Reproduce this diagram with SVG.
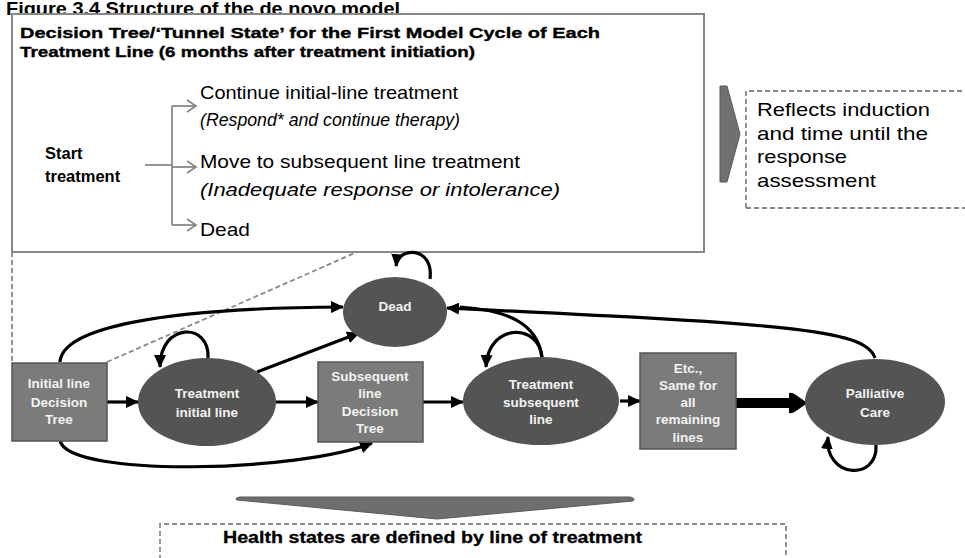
<svg xmlns="http://www.w3.org/2000/svg" width="965" height="558" viewBox="0 0 965 558">
  <style>
    text { font-family: "Liberation Sans", Arial, sans-serif; }
    .title { font-size: 19px; font-weight: bold; fill: #000; }
    .hdr { font-size: 15.5px; font-weight: bold; fill: #000; stroke: #000; stroke-width: 0.35; }
    .opt { font-size: 19px; fill: #000; }
    .opti { font-size: 19px; font-style: italic; fill: #000; }
    .start { font-size: 16.5px; font-weight: bold; fill: #000; }
    .note { font-size: 19px; fill: #000; }
    .foot { font-size: 17px; font-weight: bold; fill: #000; stroke: #000; stroke-width: 0.3; }
    .lbl { font-size: 13.5px; font-weight: bold; fill: #f2f2f2; text-anchor: middle; }
    .state { fill: #545454; }
    .tree { fill: #7b7b7b; stroke: #555; stroke-width: 1.5; }
    .dash { fill: none; stroke: #888; stroke-width: 1.8; stroke-dasharray: 5 3; }
    .branch { fill: none; stroke: #888; stroke-width: 1.8; }
    .edge { fill: none; stroke: #000; stroke-width: 3.2; marker-end: url(#head); }
  </style>
  <defs>
    <marker id="head" markerUnits="userSpaceOnUse" markerWidth="14" markerHeight="12" refX="12" refY="6" orient="auto">
      <path d="M0,0 L13,6 L0,12 Z" fill="#000"/>
    </marker>
    <marker id="open" markerUnits="userSpaceOnUse" markerWidth="12" markerHeight="14" refX="10" refY="7" orient="auto">
      <path d="M1,1 L10,7 L1,13" fill="none" stroke="#888" stroke-width="1.8"/>
    </marker>
  </defs>

  <!-- figure caption, clipped by the top edge -->
  <text class="title" x="6" y="15" textLength="394" lengthAdjust="spacingAndGlyphs">Figure 3.4 Structure of the de novo model</text>

  <!-- decision tree panel -->
  <g id="tunnel-panel">
    <rect x="12" y="14" width="692" height="238" fill="#fff" stroke="#888" stroke-width="2"/>
    <text class="hdr" x="20" y="38" textLength="580" lengthAdjust="spacingAndGlyphs">Decision Tree/‘Tunnel State’ for the First Model Cycle of Each</text>
    <text class="hdr" x="20" y="57" textLength="455" lengthAdjust="spacingAndGlyphs">Treatment Line (6 months after treatment initiation)</text>
    <text class="start" x="45" y="159">Start</text>
    <text class="start" x="45" y="182">treatment</text>
    <g id="branches">
      <path class="branch" d="M145,165 H172"/>
      <path class="branch" d="M172,106 V225"/>
      <path class="branch" d="M172,106 H196" marker-end="url(#open)"/>
      <path class="branch" d="M172,167 H196" marker-end="url(#open)"/>
      <path class="branch" d="M172,225 H196" marker-end="url(#open)"/>
    </g>
    <text class="opt" x="200" y="99" textLength="258" lengthAdjust="spacingAndGlyphs">Continue initial-line treatment</text>
    <text class="opti" x="200" y="126" textLength="260" lengthAdjust="spacingAndGlyphs">(Respond* and continue therapy)</text>
    <text class="opt" x="200" y="168" textLength="320" lengthAdjust="spacingAndGlyphs">Move to subsequent  line treatment</text>
    <text class="opti" x="200" y="196" textLength="360" lengthAdjust="spacingAndGlyphs">(Inadequate  response or intolerance)</text>
    <text class="opt" x="200" y="236" textLength="50" lengthAdjust="spacingAndGlyphs">Dead</text>
  </g>

  <!-- side pointer and note -->
  <g id="induction-note">
    <polygon points="720,86 727,86 740,134 727,182 720,182" fill="#707070" stroke="#5a5a5a" stroke-width="1"/>
    <path class="dash" d="M746,208 V91 H968 M746,208 H968"/>
    <text class="note" x="757" y="116" textLength="173" lengthAdjust="spacingAndGlyphs">Reflects induction</text>
    <text class="note" x="757" y="140" textLength="171" lengthAdjust="spacingAndGlyphs">and time until the</text>
    <text class="note" x="757" y="163" textLength="90" lengthAdjust="spacingAndGlyphs">response</text>
    <text class="note" x="757" y="187" textLength="119" lengthAdjust="spacingAndGlyphs">assessment</text>
  </g>

  <!-- callout outline linking the panel to the first decision tree -->
  <g id="callout">
    <path class="dash" d="M12,252 V362"/>
    <path class="dash" d="M107,362 L357,252"/>
  </g>

  <!-- transitions -->
  <g id="connectors">
    <path class="edge" d="M107,402 H138"/>
    <path class="edge" d="M276,402 H318"/>
    <path class="edge" d="M423,402 H463"/>
    <path class="edge" d="M620,401 H640"/>
    <path d="M736,403 H794" fill="none" stroke="#000" stroke-width="10"/>
    <path d="M789,393 Q792,392 796,395 L806,402 Q807,403 806,404 L796,411 Q792,414 789,413 Z" fill="#000"/>
    <path class="edge" d="M60,362 C62,328 160,308 343,307"/>
    <path class="edge" d="M257,372 L359,333"/>
    <path class="edge" d="M208,358 C210,322 160,322 160,367"/>
    <path class="edge" d="M430,279 C434,246 398,246 396,266"/>
    <path class="edge" d="M875,358 C865,328 780,324 447,308"/>
    <path fill="none" stroke="#000" stroke-width="3.2" d="M542,358 C538,322 505,310 460,307"/>
    <path class="edge" d="M542,358 C540,323 488,322 486,367"/>
    <path class="edge" d="M60,441 C70,478 300,472 372,443"/>
    <path class="edge" d="M876,445 C878,482 824,478 828,437"/>
  </g>

  <!-- health states -->
  <g id="initial-tree">
    <rect class="tree" x="12" y="363" width="95" height="78"/>
    <text class="lbl" x="59" y="388">Initial  line</text>
    <text class="lbl" x="59" y="407">Decision</text>
    <text class="lbl" x="59" y="424">Tree</text>
  </g>
  <g id="treatment-initial">
    <ellipse class="state" cx="207" cy="402" rx="69" ry="44"/>
    <text class="lbl" x="207" y="398">Treatment</text>
    <text class="lbl" x="207" y="417">initial  line</text>
  </g>
  <g id="dead">
    <ellipse class="state" cx="395" cy="312" rx="52" ry="35"/>
    <text class="lbl" x="395" y="311">Dead</text>
  </g>
  <g id="subsequent-tree">
    <rect class="tree" x="318" y="362" width="105" height="80"/>
    <text class="lbl" x="370" y="381">Subsequent</text>
    <text class="lbl" x="370" y="398">line</text>
    <text class="lbl" x="370" y="416">Decision</text>
    <text class="lbl" x="370" y="433">Tree</text>
  </g>
  <g id="treatment-subsequent">
    <ellipse class="state" cx="541" cy="401" rx="78" ry="44"/>
    <text class="lbl" x="541" y="389">Treatment</text>
    <text class="lbl" x="541" y="407">subsequent</text>
    <text class="lbl" x="541" y="424">line</text>
  </g>
  <g id="remaining-lines">
    <rect class="tree" x="640" y="353" width="96" height="96"/>
    <text class="lbl" x="688" y="373">Etc.,</text>
    <text class="lbl" x="688" y="390">Same for</text>
    <text class="lbl" x="688" y="407">all</text>
    <text class="lbl" x="688" y="424">remaining</text>
    <text class="lbl" x="688" y="442">lines</text>
  </g>
  <g id="palliative">
    <ellipse class="state" cx="875" cy="402" rx="70" ry="43"/>
    <text class="lbl" x="875" y="398">Palliative</text>
    <text class="lbl" x="875" y="417">Care</text>
  </g>

  <!-- summary pointer and footnote -->
  <g id="summary">
    <path d="M237,500 Q234,498 240,497 H630 Q636,498 633,501 L437,519 Z" fill="#6e6e6e" stroke="#5a5a5a" stroke-width="1"/>
    <path class="dash" d="M160,560 V524 H786 V560"/>
    <text class="foot" x="223" y="543" textLength="419" lengthAdjust="spacingAndGlyphs">Health states are defined by line of treatment</text>
  </g>
</svg>
